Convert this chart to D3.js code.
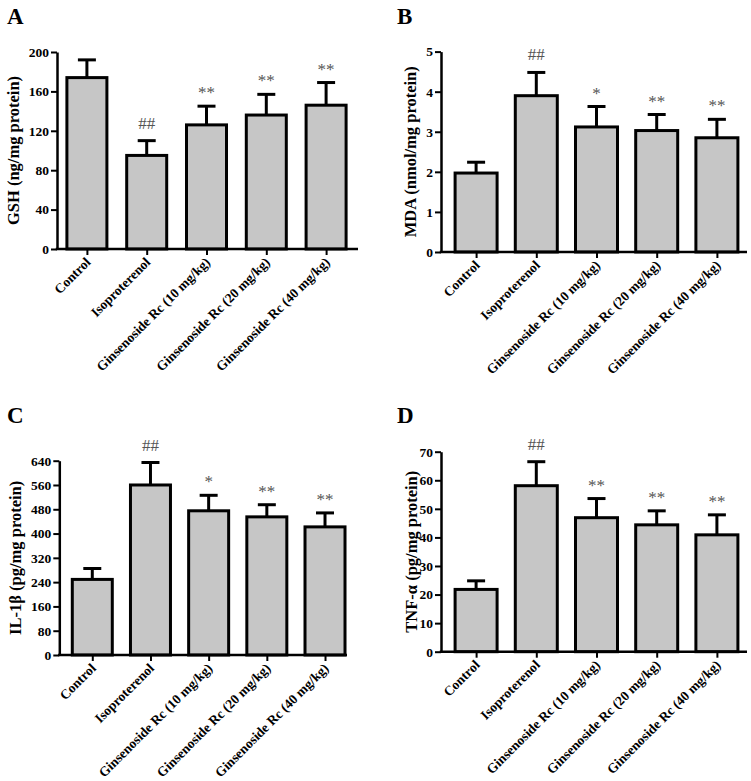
<!DOCTYPE html>
<html>
<head>
<meta charset="utf-8">
<script src="https://cdn.jsdelivr.net/npm/d3@7/dist/d3.min.js"></script>
<style>
  html, body { margin: 0; padding: 0; background: #fff; }
  svg { display: block; }
  text { font-family: "Liberation Serif", "Times New Roman", Times, serif; }
</style>
</head>
<body>
<svg id="chart" width="751" height="781"></svg>
<script>
// ---- data ----
const categories = ["Control", "Isoproterenol", "Ginsenoside Rc (10 mg/kg)", "Ginsenoside Rc (20 mg/kg)", "Ginsenoside Rc (40 mg/kg)"];

const gshMean = [174, 95, 126, 136, 146];
const gshSD   = [18, 15, 19, 21, 23];
const gshSig  = ["", "##", "**", "**", "**"];
const gshTicks = [0, 40, 80, 120, 160, 200];

const mdaMean = [1.97, 3.90, 3.12, 3.03, 2.85];
const mdaSD   = [0.27, 0.58, 0.51, 0.40, 0.46];
const mdaSig  = ["", "##", "*", "**", "**"];
const mdaTicks = [0, 1, 2, 3, 4, 5];

const il1bMean = [249, 560, 475, 455, 422];
const il1bSD   = [36, 74, 51, 40, 46];
const il1bSig  = ["", "##", "*", "**", "**"];
const il1bTicks = [0, 80, 160, 240, 320, 400, 480, 560, 640];

const tnfMean = [21.8, 58.1, 46.9, 44.4, 40.9];
const tnfSD   = [3.0, 8.4, 6.7, 4.9, 7.0];
const tnfSig  = ["", "##", "**", "**", "**"];
const tnfTicks = [0, 10, 20, 30, 40, 50, 60, 70];

// ---- panels (layout) ----
const panels = [
  { letter: "A", title: "GSH (ng/mg protein)", mean: gshMean, sd: gshSD, sig: gshSig, ticks: gshTicks,
    axisX: 57, y0: 249, y1: 52, xr: [57, 356], axisEnd: 358, barW: 40, letterX: 7, letterY: 24, titleX: 19 },
  { letter: "B", title: "MDA (nmol/mg protein)", mean: mdaMean, sd: mdaSD, sig: mdaSig, ticks: mdaTicks,
    axisX: 441, y0: 252, y1: 51.6, xr: [446, 747], axisEnd: 747, barW: 42, letterX: 397, letterY: 24, titleX: 416 },
  { letter: "C", title: "IL-1β (pg/mg protein)", mean: il1bMean, sd: il1bSD, sig: il1bSig, ticks: il1bTicks,
    axisX: 59.3, y0: 655, y1: 460.7, xr: [63.2, 354.1], axisEnd: 347, barW: 40, letterX: 7, letterY: 423, titleX: 20.5 },
  { letter: "D", title: "TNF-α (pg/mg protein)", mean: tnfMean, sd: tnfSD, sig: tnfSig, ticks: tnfTicks,
    axisX: 441, y0: 651.7, y1: 451.7, xr: [446, 747], axisEnd: 747, barW: 42, letterX: 397, letterY: 423, titleX: 416.5 }
];

const svg = d3.select("#chart");
const serif = '"Liberation Serif", "Times New Roman", serif';

panels.forEach(p => {
  const g = svg.append("g");
  const yMax = p.ticks[p.ticks.length - 1];
  const y = d3.scaleLinear().domain([0, yMax]).range([p.y0, p.y1]);
  const x = d3.scalePoint().domain(categories).range(p.xr).padding(0.5);

  // bars
  g.selectAll("rect.bar").data(categories).enter().append("rect")
    .attr("x", (d) => x(d) - p.barW / 2)
    .attr("y", (d, i) => y(p.mean[i]))
    .attr("width", p.barW)
    .attr("height", (d, i) => p.y0 - y(p.mean[i]))
    .attr("fill", "#c6c6c6")
    .attr("stroke", "#000")
    .attr("stroke-width", 3);

  // error bars
  const capW = 18;
  g.selectAll("line.err").data(categories).enter().append("line")
    .attr("x1", d => x(d)).attr("x2", d => x(d))
    .attr("y1", (d, i) => y(p.mean[i]))
    .attr("y2", (d, i) => y(p.mean[i] + p.sd[i]))
    .attr("stroke", "#000").attr("stroke-width", 3);
  g.selectAll("line.cap").data(categories).enter().append("line")
    .attr("x1", d => x(d) - capW / 2).attr("x2", d => x(d) + capW / 2)
    .attr("y1", (d, i) => y(p.mean[i] + p.sd[i]))
    .attr("y2", (d, i) => y(p.mean[i] + p.sd[i]))
    .attr("stroke", "#000").attr("stroke-width", 3);

  // significance
  g.selectAll("text.sig").data(categories).enter().append("text")
    .attr("x", d => x(d))
    .attr("y", (d, i) => y(p.mean[i] + p.sd[i]) - (p.sig[i].startsWith("#") ? 12 : 8))
    .attr("text-anchor", "middle")
    .attr("font-size", 17)
    .attr("fill", "#555")
    .text((d, i) => p.sig[i]);

  // y axis
  const yAxis = d3.axisLeft(y).tickValues(p.ticks).tickFormat(d => String(d))
    .tickSize(6).tickSizeOuter(0).tickPadding(2);
  const ya = g.append("g").attr("transform", `translate(${p.axisX},0)`).call(yAxis);
  ya.select(".domain").attr("stroke-width", 2.5).attr("stroke", "#000");
  ya.selectAll(".tick line").attr("stroke-width", 2).attr("stroke", "#000");
  ya.selectAll(".tick text").attr("font-size", 13.5).attr("font-weight", "bold")
    .attr("font-family", serif).attr("fill", "#000");

  // x axis
  const xAxis = d3.axisBottom(x).tickSize(6).tickSizeOuter(0);
  const xa = g.append("g").attr("transform", `translate(0,${p.y0})`).call(xAxis);
  xa.select(".domain").remove();
  xa.selectAll(".tick line").attr("stroke-width", 2).attr("stroke", "#000");
  xa.selectAll(".tick text")
    .attr("font-size", 13.5).attr("font-weight", "bold")
    .attr("font-family", serif).attr("fill", "#000")
    .attr("text-anchor", "end")
    .attr("dy", 0)
    .attr("y", 0)
    .attr("transform", "translate(4,14) rotate(-45)");
  g.append("line")
    .attr("x1", p.axisX - 1.25).attr("x2", p.axisEnd)
    .attr("y1", p.y0).attr("y2", p.y0)
    .attr("stroke", "#000").attr("stroke-width", 2.5);

  // y title
  g.append("text")
    .attr("transform", `translate(${p.titleX},${(p.y0 + p.y1) / 2}) rotate(-90)`)
    .attr("text-anchor", "middle")
    .attr("font-size", 16.5).attr("font-weight", "bold")
    .text(p.title);

  // panel letter
  g.append("text")
    .attr("x", p.letterX).attr("y", p.letterY)
    .attr("font-size", 23).attr("font-weight", "bold")
    .text(p.letter);
});
</script>
</body>
</html>
